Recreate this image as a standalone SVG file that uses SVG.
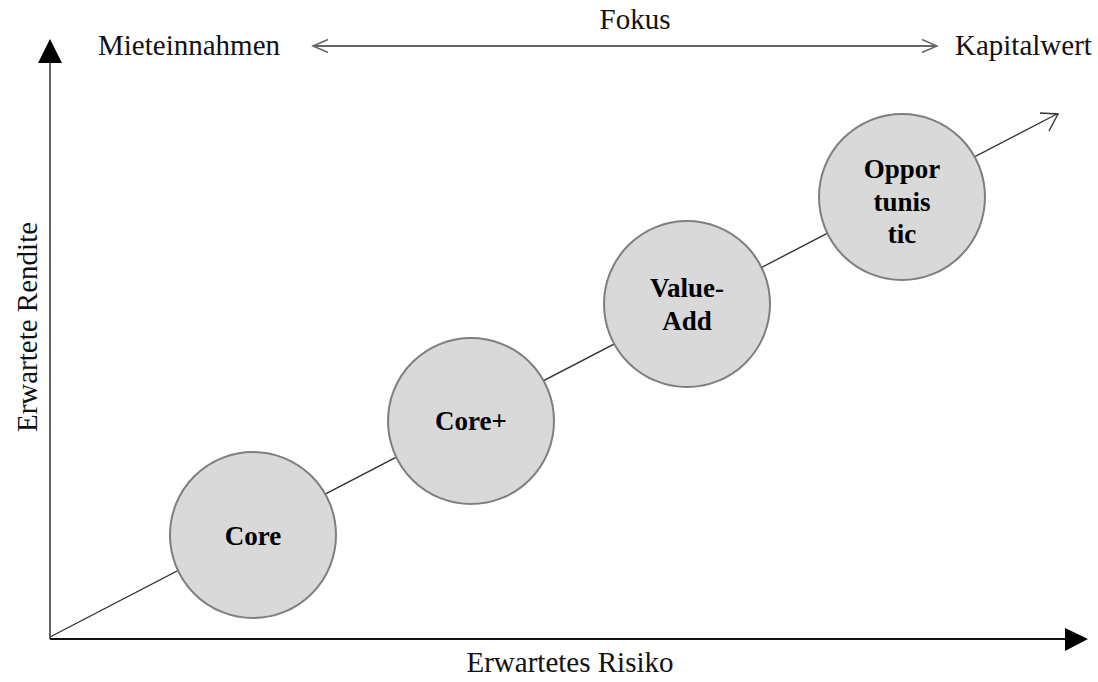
<svg xmlns="http://www.w3.org/2000/svg" width="1098" height="682" viewBox="0 0 1098 682">
<style>
.lbl{font-family:"Liberation Serif","Times New Roman",serif;font-size:29px;fill:#111}
.node circle{fill:#d9d9d9;stroke:#7f7f7f;stroke-width:2}
.node text{font-family:"Liberation Serif","Times New Roman",serif;font-size:27px;font-weight:bold;fill:#000;text-anchor:middle}
</style>
<rect width="1098" height="682" fill="#fff"/>
<g id="axes">
<line x1="50" y1="639" x2="50" y2="60" stroke="#666" stroke-width="2"/>
<polygon points="50,39 62,63 38,63" fill="#000"/>
<line x1="50" y1="639" x2="1068" y2="639" stroke="#111" stroke-width="2"/>
<polygon points="1088,639 1065,628 1065,651" fill="#000"/>
</g>
<g id="connectors" fill="none">
<line x1="50" y1="637" x2="1057" y2="114" stroke="#333" stroke-width="1.4"/>
<polyline points="1040,113 1058,114 1049,131" stroke="#333" stroke-width="1.4"/>
<line x1="313" y1="46" x2="937" y2="46" stroke="#666" stroke-width="2"/>
<polyline points="328,39.5 313,46 328,52.5" stroke="#666" stroke-width="1.5"/>
<polyline points="922,39.5 937,46 922,52.5" stroke="#666" stroke-width="1.5"/>
</g>
<g id="labels">
<text class="lbl" x="98" y="55">Mieteinnahmen</text>
<text class="lbl" x="955" y="55">Kapitalwert</text>
<text class="lbl" x="635" y="29" text-anchor="middle">Fokus</text>
<text class="lbl" x="570" y="672" text-anchor="middle">Erwartetes Risiko</text>
<text class="lbl" x="0" y="0" text-anchor="middle" transform="translate(37,327) rotate(-90)">Erwartete Rendite</text>
</g>
<g id="node-core" class="node">
<circle cx="253" cy="535" r="83"/>
<text x="253" y="545">Core</text>
</g>
<g id="node-coreplus" class="node">
<circle cx="471" cy="421" r="83"/>
<text x="471" y="430">Core+</text>
</g>
<g id="node-valueadd" class="node">
<circle cx="687" cy="304" r="83"/>
<text x="687" y="297">Value-</text>
<text x="687" y="330">Add</text>
</g>
<g id="node-opportunistic" class="node">
<circle cx="902" cy="197" r="83"/>
<text x="902" y="178">Oppor</text>
<text x="902" y="211">tunis</text>
<text x="902" y="243">tic</text>
</g>
</svg>
